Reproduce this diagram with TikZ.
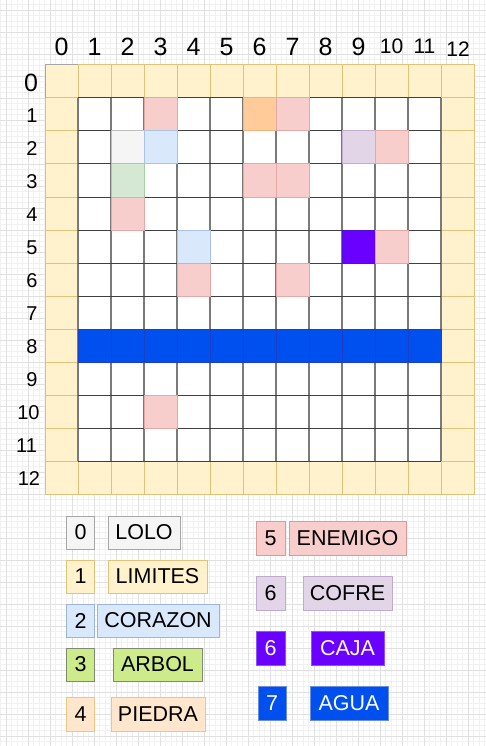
\documentclass[tikz,border=0pt]{standalone}
\usepackage{fontspec}
\setmainfont{Liberation Sans}
\definecolor{bgminor}{HTML}{F1F1F1}
\definecolor{bgmajor}{HTML}{E0E0E0}
\definecolor{limfill}{HTML}{FFF2CC}
\definecolor{limdraw}{HTML}{E0C27A}
\definecolor{celldraw}{HTML}{7A7A7A}
\definecolor{pinkfill}{HTML}{F8CECC}
\definecolor{pinkdraw}{HTML}{E2A9A7}
\definecolor{orfill}{HTML}{FFCC99}
\definecolor{ordraw}{HTML}{EDB67E}
\definecolor{grfill}{HTML}{F5F5F5}
\definecolor{grdraw}{HTML}{BDBDBD}
\definecolor{lbfill}{HTML}{DAE8FC}
\definecolor{lbdraw}{HTML}{A9C2E6}
\definecolor{pufill}{HTML}{E1D5E7}
\definecolor{pudraw}{HTML}{C4AED0}
\definecolor{gnfill}{HTML}{D5E8D4}
\definecolor{gndraw}{HTML}{A9CCA4}
\definecolor{vifill}{HTML}{6A00FF}
\definecolor{vidraw}{HTML}{4A10D8}
\definecolor{blfill}{HTML}{0050EF}
\definecolor{bldraw}{HTML}{1D3FC4}
\definecolor{arfill}{HTML}{CDEB8B}
\definecolor{ardraw}{HTML}{7E8A72}
\definecolor{pifill}{HTML}{FFE6CC}
\definecolor{pidraw}{HTML}{F0C57E}
\definecolor{lolodraw}{HTML}{A6A6A6}
\definecolor{lbdraw2}{HTML}{9DB5DC}
\definecolor{endraw}{HTML}{D99A98}
\definecolor{codraw}{HTML}{C2AACF}
\definecolor{cajdraw}{HTML}{8A55F5}
\definecolor{agdraw}{HTML}{6B8DE0}
\tikzset{
  minorln/.style={bgminor, line width=0.6pt},
  majorln/.style={bgmajor, line width=0.8pt},
  colnum/.style={font=\fontsize{25}{28}\selectfont, inner sep=0pt},
  colnumsm/.style={font=\fontsize{21}{24}\selectfont, inner sep=0pt},
  rownum/.style={font=\fontsize{20}{23}\selectfont, inner sep=0pt},
  legbox/.style={font=\fontsize{21.5}{24}\selectfont, inner sep=0pt, line width=1pt, draw}
}
\newcommand{\cellat}[3]{%
  \filldraw[fill=#3fill, draw=#3draw, line width=1pt]
    ({45+33*#1},{65+33*#2}) rectangle ({78+33*#1},{98+33*#2});}
\begin{document}
\begin{tikzpicture}[x=1pt, y=-1pt]
\useasboundingbox (0,0) rectangle (486,746);
\fill[white] (0,0) rectangle (486,746);
% background grid
\foreach \i in {0,...,88} { \draw[minorln] ({0.5+5.5*\i},0) -- ({0.5+5.5*\i},746); }
\foreach \j in {0,...,134} { \draw[minorln] (0,{4.5+5.5*\j}) -- (486,{4.5+5.5*\j}); }
\foreach \i in {0,...,21} { \draw[majorln] ({6+22*\i},0) -- ({6+22*\i},746); }
\foreach \j in {0,...,33} { \draw[majorln] (0,{10+22*\j}) -- (486,{10+22*\j}); }
% board: limits
\fill[limfill] (45,65) rectangle (474,494);
\foreach \k in {0,...,12} {
  \draw[limdraw, line width=1pt] ({45+33*\k},65) rectangle ({78+33*\k},98);
  \draw[limdraw, line width=1pt] ({45+33*\k},461) rectangle ({78+33*\k},494);
  \draw[limdraw, line width=1pt] (45,{65+33*\k}) rectangle (78,{98+33*\k});
  \draw[limdraw, line width=1pt] (441,{65+33*\k}) rectangle (474,{98+33*\k});
}
\draw[lolodraw, line width=1pt] (45,98) -- (45,65) -- (78,65);
% inner cells
\fill[white] (78,98) rectangle (441,461);
\foreach \k in {0,...,11} {
  \draw[celldraw, line width=1.6pt] ({78+33*\k},98) -- ({78+33*\k},461);
}
\foreach \k in {0,...,11} {
  \draw[black!75, line width=1pt] (78,{98+33*\k}) -- (441,{98+33*\k});
}
% coloured cells
\cellat{3}{1}{pink}
\cellat{6}{1}{or}
\cellat{7}{1}{pink}
\cellat{2}{2}{gr}
\cellat{3}{2}{lb}
\cellat{9}{2}{pu}
\cellat{10}{2}{pink}
\cellat{2}{3}{gn}
\cellat{6}{3}{pink}
\cellat{7}{3}{pink}
\cellat{2}{4}{pink}
\cellat{4}{5}{lb}
\cellat{9}{5}{vi}
\cellat{10}{5}{pink}
\cellat{4}{6}{pink}
\cellat{7}{6}{pink}
\cellat{3}{10}{pink}
\foreach \k in {1,...,11} { \cellat{\k}{8}{bl} }
% column labels
\foreach \k in {0,...,9} { \node[colnum] (c\k) at ({61.5+33*\k},47) {\k}; }
\node[colnumsm] (c10) at (391.5,46) {10};
\node[colnumsm] (c11) at (424.5,46) {11};
\node[colnumsm] (c12) at (458,49) {12};
% row labels
\node[colnum] (r0) at (31,83) {0};
\foreach \k in {1,...,9} { \node[rownum] (r\k) at (32,{83+33*\k}) {\k}; }
\node[rownum] (r10) at (28.5,413) {10};
\node[rownum] (r11) at (26.5,446) {11};
\node[rownum] (r12) at (29,479) {12};
% legend
\node[legbox, fill=grfill, draw=lolodraw, minimum width=27.6, minimum height=33] (n0) at (80.5,532.5) {0};
\node[legbox, fill=grfill, draw=lolodraw, minimum width=72, minimum height=33] (t0) at (144,532.5) {LOLO};
\node[legbox, fill=limfill, draw=limdraw, minimum width=27.6, minimum height=33] (n1) at (80.5,576.5) {1};
\node[legbox, fill=limfill, draw=limdraw, minimum width=99, minimum height=33] (t1) at (157.5,576.5) {LIMITES};
\node[legbox, fill=lbfill, draw=lbdraw2, minimum width=27.6, minimum height=33] (n2) at (80.5,620.5) {2};
\node[legbox, fill=lbfill, draw=lbdraw2, minimum width=122, minimum height=33] (t2) at (158,620.5) {CORAZON};
\node[legbox, fill=arfill, draw=ardraw, minimum width=27.6, minimum height=33] (n3) at (80.5,664.5) {3};
\node[legbox, fill=arfill, draw=ardraw, minimum width=89, minimum height=33] (t3) at (157.5,664.5) {ARBOL};
\node[legbox, fill=pifill, draw=pidraw, minimum width=27.6, minimum height=34] (n4) at (80.5,714) {4};
\node[legbox, fill=pifill, draw=pidraw, minimum width=94, minimum height=34] (t4) at (158,714) {PIEDRA};
\node[legbox, fill=pinkfill, draw=endraw, minimum width=29, minimum height=34] (n5) at (270.5,538) {5};
\node[legbox, fill=pinkfill, draw=endraw, minimum width=117, minimum height=34] (t5) at (347.5,538) {ENEMIGO};
\node[legbox, fill=pufill, draw=codraw, minimum width=29, minimum height=34] (n6) at (270.5,593) {6};
\node[legbox, fill=pufill, draw=codraw, minimum width=89, minimum height=34] (t6) at (347.5,593) {COFRE};
\node[legbox, fill=vifill, draw=cajdraw, text=white, minimum width=29, minimum height=34] (n6b) at (270.5,648) {6};
\node[legbox, fill=vifill, draw=cajdraw, text=white, minimum width=73, minimum height=34] (t6b) at (347.5,648) {CAJA};
\node[legbox, fill=blfill, draw=agdraw, text=white, minimum width=28, minimum height=34] (n7) at (272,703) {7};
\node[legbox, fill=blfill, draw=agdraw, text=white, minimum width=78, minimum height=34] (t7) at (349,703) {AGUA};
\end{tikzpicture}
\end{document}
